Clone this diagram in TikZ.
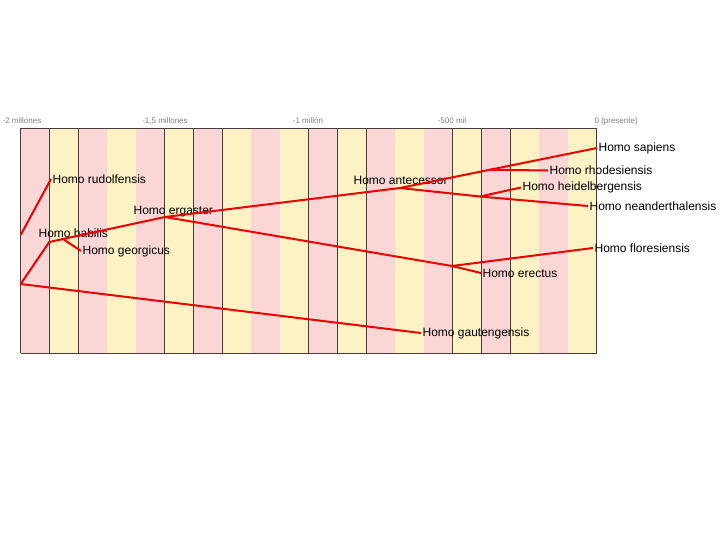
\documentclass[tikz,border=0pt]{standalone}
\usepackage{fontspec}
\setmainfont{Liberation Sans}
\usepackage{tikz}
\usetikzlibrary{positioning}
\usepackage{xcolor}
\definecolor{stripepink}{RGB}{250,214,214}
\definecolor{stripeyellow}{RGB}{252,242,196}
\definecolor{lineagered}{RGB}{236,0,0}
\definecolor{gridgray}{RGB}{70,60,60}

\begin{document}
\begin{tikzpicture}[x=0.75pt, y=-0.75pt,
    taxon/.style={anchor=west, inner sep=1pt, font=\fontsize{9}{10}\selectfont},
    era/.style={inner sep=1pt, font=\fontsize{6}{7}\selectfont, text=gray},
    gridline/.style={draw=gridgray, line width=0.6pt},
    lineage/.style={draw=lineagered, line width=1.5pt, line join=round}]

    \useasboundingbox (0,0) rectangle (720,540);

    % Stripes, one per 100 000 years
    \foreach \k in {0,2,...,18}
        \fill[stripepink] ({20.7+28.8*\k},128) rectangle ({49.5+28.8*\k},353);
    \foreach \k in {1,3,...,19}
        \fill[stripeyellow] ({20.7+28.8*\k},128) rectangle ({49.5+28.8*\k},353);

    % Grid
    \foreach \k in {0,1,2,5,6,7,10,11,12,15,16,17,20}
        \draw[gridline] ({20.7+28.8*\k},128) -- ({20.7+28.8*\k},353);
    \draw[gridline] (20.7,128) -- (596.7,128);
    \draw[gridline] (20.7,353) -- (596.7,353);

    % Time axis
    \node[era] at (22,121) (t0) {-2 millones};
    \node[era] at (165,121) (t1) {-1,5 millones};
    \node[era] at (308,121) (t2) {-1 millón};
    \node[era] at (452,121) (t3) {-500 mil};
    \node[era,anchor=west] at (593,121) (t4) {0 (presente)};

    % Species
    \node[taxon] at (51,179) (rud) {Homo rudolfensis};
    \node[taxon] at (37,233) (hab) {Homo habilis};
    \node[taxon] at (81,251) (geo) {Homo georgicus};
    \node[taxon] at (132,212) (erg) {Homo ergaster};
    \node[taxon] at (352,180) (ant) {Homo antecessor};
    \node[taxon] at (597,148) (sap) {Homo sapiens};
    \node[taxon] at (548,170.5) (rho) {Homo rhodesiensis};
    \node[taxon] at (521,187.5) (hei) {Homo heidelbergensis};
    \node[taxon] at (588,206) (nea) {Homo neanderthalensis};
    \node[taxon] at (593,248) (flo) {Homo floresiensis};
    \node[taxon] at (481,273) (ere) {Homo erectus};
    \node[taxon] at (421,333) (gau) {Homo gautengensis};

    % Branch points
    \coordinate (rootA) at (20.7,235);
    \coordinate (rootB) at (20.7,284);
    \coordinate (jHab) at (49.3,242);
    \coordinate (jGeo) at (63,239);
    \coordinate (jErg) at (165,217);
    \coordinate (jAnt) at (400,188);
    \coordinate (jRho) at (490,169.7);
    \coordinate (jNea) at (480,196.5);
    \coordinate (jEre) at (452,266);

    % Lineages
    \draw[lineage] (rootA) -- (rud.west);
    \draw[lineage] (rootB) -- (jHab) -- (jGeo) -- (jErg);
    \draw[lineage] (jGeo) -- (geo.west);
    \draw[lineage] (rootB) -- (gau.west);
    \draw[lineage] (jErg) -- (jAnt) -- (jRho) -- (sap.west);
    \draw[lineage] (jRho) -- (rho.west);
    \draw[lineage] (jAnt) -- (jNea) -- (nea.west);
    \draw[lineage] (jNea) -- (hei.west);
    \draw[lineage] (jErg) -- (jEre) -- (ere.west);
    \draw[lineage] (jEre) -- (flo.west);

\end{tikzpicture}
\end{document}
